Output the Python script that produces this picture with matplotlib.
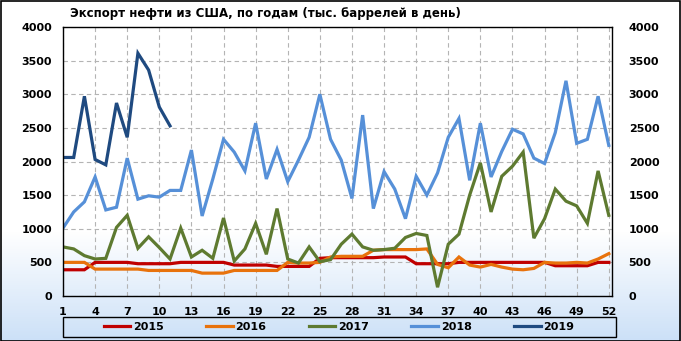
import matplotlib.pyplot as plt
import numpy as np
from matplotlib.patches import Rectangle

# ---------------------------------------------------------------------------
# Data (thousand barrels per day, by week)
# ---------------------------------------------------------------------------
weeks = list(range(1, 53))

exp_2015 = [390, 390, 390, 500, 500, 500, 500, 480, 480, 480,
            480, 500, 500, 500, 500, 500, 460, 460, 460, 460,
            440, 440, 440, 440, 560, 570, 570, 570, 570, 570,
            580, 580, 580, 480, 480, 480, 480, 500, 500, 500,
            500, 500, 500, 500, 500, 500, 450, 450, 450, 450,
            500, 500]
exp_2016 = [500, 500, 500, 400, 400, 400, 400, 400, 380, 380,
            380, 380, 380, 340, 340, 340, 380, 380, 380, 380,
            380, 500, 490, 490, 500, 580, 590, 590, 590, 680,
            690, 690, 690, 690, 700, 470, 420, 580, 460, 430,
            470, 430, 400, 390, 410, 500, 490, 490, 500, 490,
            550, 630]
exp_2017 = [730, 700, 600, 550, 560, 1020, 1200, 710, 880, 720,
            550, 1010, 580, 680, 560, 1160, 520, 700, 1080, 620,
            1300, 550, 490, 730, 510, 540, 770, 920, 730, 680,
            690, 710, 870, 930, 900, 130, 770, 920, 1500, 1980,
            1250, 1780, 1930, 2140, 860, 1150, 1590, 1410, 1340, 1080,
            1860, 1200]
exp_2018 = [1010, 1250, 1400, 1770, 1280, 1320, 2050, 1440, 1490, 1470,
            1570, 1570, 2170, 1190, 1740, 2330, 2140, 1860, 2570, 1740,
            2180, 1700, 2020, 2360, 3000, 2330, 2020, 1450, 2690, 1300,
            1850, 1590, 1150, 1780, 1500, 1830, 2360, 2640, 1720, 2570,
            1770, 2150, 2480, 2410, 2050, 1970, 2430, 3200, 2270, 2330,
            2970, 2240]
exp_2019 = [2060, 2060, 2970, 2030, 1950, 2870, 2360, 3610, 3360, 2810,
            2530]

series = [
    ("2015", exp_2015, "#C00000"),
    ("2016", exp_2016, "#E8720C"),
    ("2017", exp_2017, "#5E7A30"),
    ("2018", exp_2018, "#5690D8"),
    ("2019", exp_2019, "#1F4A80"),
]

x_ticks = list(range(1, 53, 3))
y_ticks = list(range(0, 4001, 500))
TITLE = "Экспорт нефти из США, по годам (тыс. баррелей в день)"

W, H = 681, 341
fig = plt.figure(figsize=(W / 100, H / 100), dpi=100)

# background gradient: white on top, light blue at the bottom
bg = fig.add_axes([0, 0, 1, 1], zorder=-10)
rows = np.linspace(0, 1, 341)[:, None]
t = np.clip((rows - 0.68) / 0.32, 0, 1)
top = np.array([1.0, 1.0, 1.0])
bottom = np.array([0.80, 0.88, 0.97])
grad = (top * (1 - t))[:, None, :] + (bottom * t)[:, None, :]
bg.imshow(grad, aspect="auto", extent=[0, 1, 0, 1])
bg.set_axis_off()
fig.patches.append(Rectangle((0.5 / W, 0.5 / H), 1 - 1.5 / W, 1 - 1.5 / H,
                             transform=fig.transFigure, fill=False,
                             edgecolor="black", linewidth=1.2))

ax = fig.add_axes([63 / W, 45 / H, 549 / W, 269 / H])
ax.set_facecolor("none")
for name, vals, color in series:
    ax.plot(weeks[:len(vals)], vals, color=color, linewidth=2.3,
            label=name, solid_joinstyle="miter")

ax.set_xlim(1, 52.3)
ax.set_ylim(0, 4000)
ax.set_xticks(x_ticks)
ax.set_yticks(y_ticks)
ax.grid(True, color="#b4b4b4", linestyle=(0, (4, 3)), linewidth=0.8)
ax.set_axisbelow(True)
for sp in ax.spines.values():
    sp.set_color("black")
    sp.set_linewidth(1.0)
ax.tick_params(length=0, labelsize=8, pad=8)
for lab in ax.get_xticklabels() + ax.get_yticklabels():
    lab.set_fontweight("bold")

ax2 = ax.twinx()
ax2.set_ylim(0, 4000)
ax2.set_yticks(y_ticks)
ax2.tick_params(length=0, labelsize=8, pad=12)
for lab in ax2.get_yticklabels():
    lab.set_fontweight("bold")
for sp in ax2.spines.values():
    sp.set_visible(False)

fig.text(70 / W, 1 - 14 / H, TITLE, fontsize=8.5, fontweight="bold",
         ha="left", va="center")

# legend box
fig.patches.append(Rectangle((63 / W, 4 / H), 553 / W, 20 / H,
                             transform=fig.transFigure, fill=False,
                             edgecolor="black", linewidth=1.0))
handles, labels = ax.get_legend_handles_labels()
leg = fig.legend(handles, labels, loc="center", ncol=5,
                 bbox_to_anchor=((63 + 276) / W, 14 / H),
                 frameon=False, fontsize=8, handlelength=2.4,
                 handletextpad=0.25, columnspacing=3.8)
for txt in leg.get_texts():
    txt.set_fontweight("bold")

fig.savefig("out.png", dpi=100)
